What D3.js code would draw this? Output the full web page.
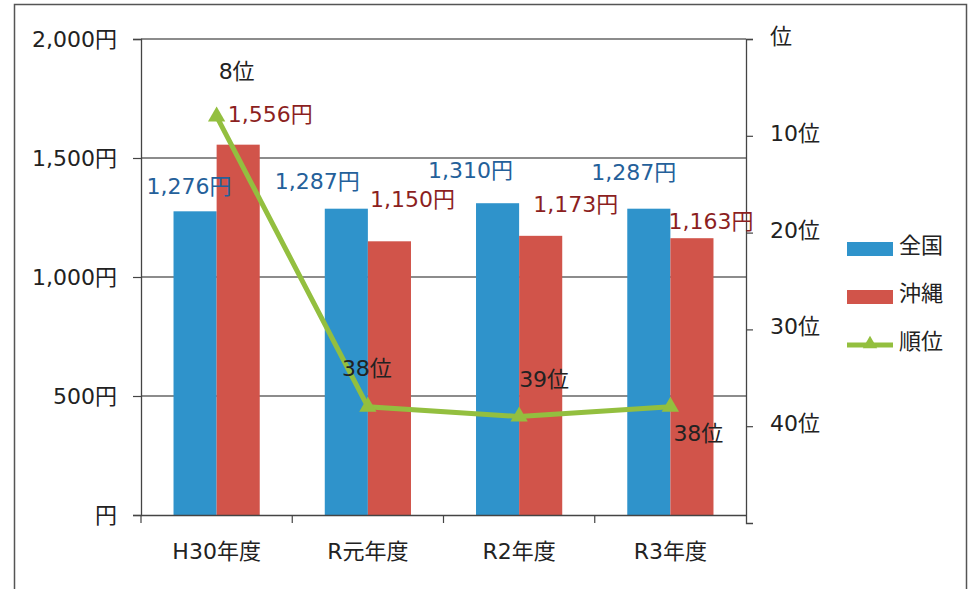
<!DOCTYPE html>
<html>
<head>
<meta charset="utf-8">
<script src="https://cdn.jsdelivr.net/npm/d3@7"></script>
<style>
  body { margin: 0; background: #fff; }
  svg { display: block; }
  svg text { font-family: "DejaVu Sans", "Noto Sans CJK JP", sans-serif; }
</style>
</head>
<body>
<svg id="chart" width="971" height="589"></svg>
<script>
// data
const years = ['H30年度', 'R元年度', 'R2年度', 'R3年度']
const zenkoku = [1276, 1287, 1310, 1287]
const okinawa = [1556, 1150, 1173, 1163]
const rank = [8, 38, 39, 38]
const yenTicks = [0, 500, 1000, 1500, 2000]
const rankTicks = [0, 10, 20, 30, 40]

// label nudges (the original labels were moved by hand)
const zenkokuNudge = [[-6, -25], [-29, -27], [-27, -33], [-15, -36]]
const okinawaNudge = [[32, -30], [23, -42], [35, -31], [19, -17]]
const rankNudge = [[20, -45], [-1, -38], [25, -37], [28, 27]]

const blue = '#2f93cb'
const red = '#d1544a'
const green = '#93bf3f'
const fs = 22

const svg = d3.select('#chart')

// outer frame
svg.append('rect')
  .attr('x', 14.5).attr('y', 4.5)
  .attr('width', 952).attr('height', 600)
  .attr('fill', 'none').attr('stroke', '#555').attr('stroke-width', 1.5)

const pLeft = 141, pRight = 746, pTop = 39, pBottom = 515

const x = d3.scaleBand().domain(years).range([pLeft, pRight]).paddingInner(0.43).paddingOuter(0.215)
const xStep = d3.scaleBand().domain(years).range([pLeft, pRight])
const series = ['全国', '沖縄']
const x1 = d3.scaleBand().domain(series).range([0, x.bandwidth()])
const y = d3.scaleLinear().domain([0, 2000]).range([pBottom, pTop])
const yr = d3.scaleLinear().domain([0, 50]).range([pTop, 523])

// gridlines
svg.append('g').selectAll('line')
  .data(yenTicks.slice(1))
  .enter().append('line')
  .attr('x1', pLeft).attr('x2', pRight)
  .attr('y1', d => y(d)).attr('y2', d => y(d))
  .attr('stroke', '#666').attr('stroke-width', 1.3)

// bars
const groups = svg.append('g').selectAll('g')
  .data(years)
  .enter().append('g')
  .attr('transform', d => `translate(${x(d)},0)`)

groups.append('rect')
  .attr('x', x1('全国')).attr('width', x1.bandwidth())
  .attr('y', (d, i) => y(zenkoku[i]))
  .attr('height', (d, i) => pBottom - y(zenkoku[i]))
  .attr('fill', blue)

groups.append('rect')
  .attr('x', x1('沖縄')).attr('width', x1.bandwidth())
  .attr('y', (d, i) => y(okinawa[i]))
  .attr('height', (d, i) => pBottom - y(okinawa[i]))
  .attr('fill', red)

// axes
const fmt = d => d === 0 ? '円' : d3.format(',')(d) + '円'
const yAxis = svg.append('g')
  .attr('transform', `translate(${pLeft},0)`)
  .call(d3.axisLeft(y).tickValues(yenTicks).tickFormat(fmt).tickSizeOuter(0).tickSize(8).tickPadding(16))
const rAxis = svg.append('g')
  .attr('transform', `translate(${pRight},0)`)
  .call(d3.axisRight(yr).tickValues(rankTicks).tickFormat(d => d === 0 ? '位' : d + '位').tickSizeOuter(0).tickSize(7).tickPadding(17))
const xAxis = svg.append('g')
  .attr('transform', `translate(0,${pBottom})`)
  .call(d3.axisBottom(xStep).tickSize(0).tickPadding(28))

// category boundary ticks on bottom axis
svg.append('g').selectAll('line')
  .data(years.slice(1))
  .enter().append('line')
  .attr('x1', d => xStep(d)).attr('x2', d => xStep(d))
  .attr('y1', pBottom).attr('y2', pBottom + 8)
  .attr('stroke', '#444').attr('stroke-width', 1.2)
svg.append('line')
  .attr('x1', pLeft).attr('x2', pLeft).attr('y1', pBottom).attr('y2', pBottom + 8)
  .attr('stroke', '#444').attr('stroke-width', 1.2)

svg.selectAll('.domain').attr('stroke', '#444').attr('stroke-width', 1.3)
svg.selectAll('.tick line').attr('stroke', '#444').attr('stroke-width', 1.2)
svg.selectAll('.tick text').attr('font-size', fs).attr('fill', '#222')
rAxis.selectAll('.tick text').attr('dy', '0.2em')

// rank line
const pts = years.map((d, i) => [xStep(d) + xStep.bandwidth() / 2, yr(rank[i])])
svg.append('path')
  .attr('d', d3.line()(pts))
  .attr('fill', 'none').attr('stroke', green).attr('stroke-width', 5)
svg.append('g').selectAll('path')
  .data(pts)
  .enter().append('path')
  .attr('d', d3.symbol(d3.symbolTriangle, 130))
  .attr('transform', d => `translate(${d[0]},${d[1]})`)
  .attr('fill', green)

// data labels
const lab = svg.append('g').attr('font-size', fs).attr('text-anchor', 'middle').attr('dominant-baseline', 'central')
years.forEach((d, i) => {
  const bx = x(d) + x1('全国') + x1.bandwidth() / 2
  lab.append('text')
    .attr('x', bx + zenkokuNudge[i][0]).attr('y', y(zenkoku[i]) + zenkokuNudge[i][1])
    .attr('fill', '#24609a').text(d3.format(',')(zenkoku[i]) + '円')
  const rx = x(d) + x1('沖縄') + x1.bandwidth() / 2
  lab.append('text')
    .attr('x', rx + okinawaNudge[i][0]).attr('y', y(okinawa[i]) + okinawaNudge[i][1])
    .attr('fill', '#8c1f1f').text(d3.format(',')(okinawa[i]) + '円')
  lab.append('text')
    .attr('x', pts[i][0] + rankNudge[i][0]).attr('y', pts[i][1] + rankNudge[i][1])
    .attr('fill', '#222').text(rank[i] + '位')
})

// legend
const legend = svg.append('g').attr('transform', 'translate(847,0)')
const items = [['全国', blue, 249], ['沖縄', red, 297], ['順位', green, 345]]
items.forEach(([name, c, ly], i) => {
  if (i < 2) {
    legend.append('rect').attr('x', 0).attr('y', ly - 7).attr('width', 46).attr('height', 14).attr('fill', c)
  } else {
    legend.append('line').attr('x1', 0).attr('x2', 46).attr('y1', ly).attr('y2', ly)
      .attr('stroke', c).attr('stroke-width', 5)
    legend.append('path').attr('d', d3.symbol(d3.symbolTriangle, 90))
      .attr('transform', `translate(23,${ly - 1})`).attr('fill', c)
  }
  legend.append('text').attr('x', 52).attr('y', ly - 4)
    .attr('dominant-baseline', 'central').attr('font-size', 22).attr('fill', '#222').text(name)
})
</script>
</body>
</html>
